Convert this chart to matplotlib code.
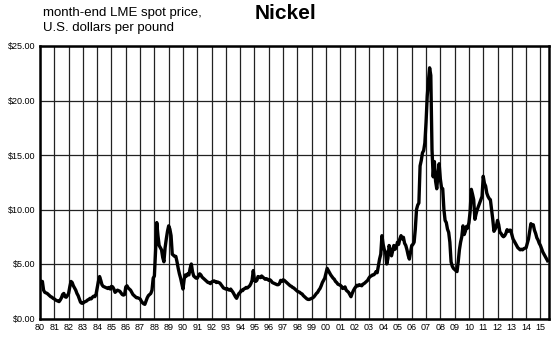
import matplotlib
matplotlib.use("Agg")
import matplotlib.pyplot as plt
import numpy as np

plt.rcParams['font.family'] = ['Liberation Sans', 'DejaVu Sans']

start_year = 1980
# month-end LME nickel spot price, US$ per pound (Jan..Dec per year)
prices_by_year = {
    1980: [3.5, 3.3, 3.4, 2.6, 2.4, 2.35, 2.3, 2.2, 2.1, 2.0, 1.95, 1.85],
    1981: [1.8, 1.7, 1.65, 1.6, 1.55, 1.7, 1.9, 2.2, 2.3, 2.0, 1.95, 2.1],
    1982: [2.3, 2.9, 3.4, 3.3, 3.0, 2.8, 2.6, 2.3, 2.1, 1.8, 1.5, 1.4],
    1983: [1.4, 1.5, 1.55, 1.6, 1.7, 1.75, 1.85, 1.8, 1.95, 2.05, 2.0, 2.2],
    1984: [2.8, 3.4, 3.85, 3.5, 3.1, 2.95, 2.9, 2.85, 2.8, 2.75, 2.85, 2.7],
    1985: [2.95, 2.9, 2.7, 2.4, 2.5, 2.6, 2.55, 2.5, 2.35, 2.2, 2.15, 2.2],
    1986: [2.9, 3.0, 2.8, 2.7, 2.6, 2.4, 2.2, 2.1, 2.0, 1.9, 1.9, 1.85],
    1987: [1.8, 1.6, 1.45, 1.35, 1.3, 1.6, 1.9, 2.1, 2.2, 2.3, 2.6, 3.7],
    1988: [3.9, 6.2, 8.8, 7.6, 6.7, 6.5, 6.3, 5.6, 5.2, 6.5, 7.3, 8.0],
    1989: [8.5, 8.2, 7.6, 5.9, 5.8, 5.7, 5.7, 5.2, 4.6, 4.1, 3.7, 3.2],
    1990: [2.7, 3.6, 4.0, 3.9, 4.1, 4.0, 4.6, 5.0, 4.3, 3.9, 3.8, 3.7],
    1991: [3.7, 3.9, 4.1, 4.0, 3.8, 3.7, 3.6, 3.5, 3.4, 3.3, 3.3, 3.2],
    1992: [3.35, 3.4, 3.45, 3.4, 3.3, 3.35, 3.3, 3.25, 3.1, 2.95, 2.8, 2.75],
    1993: [2.7, 2.75, 2.65, 2.6, 2.7, 2.55, 2.4, 2.2, 2.0, 1.85, 2.1, 2.3],
    1994: [2.4, 2.6, 2.55, 2.7, 2.75, 2.85, 2.8, 2.9, 3.0, 3.2, 3.5, 4.4],
    1995: [3.5, 3.4, 3.5, 3.85, 3.8, 3.75, 3.9, 3.8, 3.7, 3.6, 3.65, 3.6],
    1996: [3.5, 3.55, 3.45, 3.3, 3.25, 3.2, 3.15, 3.1, 3.1, 3.2, 3.5, 3.4],
    1997: [3.55, 3.5, 3.4, 3.3, 3.2, 3.1, 3.0, 2.95, 2.85, 2.8, 2.7, 2.6],
    1998: [2.5, 2.45, 2.4, 2.3, 2.25, 2.1, 2.0, 1.9, 1.8, 1.75, 1.75, 1.8],
    1999: [1.85, 1.9, 2.0, 2.15, 2.3, 2.4, 2.6, 2.75, 3.0, 3.3, 3.5, 3.7],
    2000: [4.15, 4.6, 4.4, 4.2, 4.0, 3.85, 3.7, 3.6, 3.4, 3.3, 3.15, 3.1],
    2001: [3.05, 2.95, 2.75, 2.8, 2.9, 2.6, 2.5, 2.4, 2.2, 2.0, 2.3, 2.55],
    2002: [2.75, 2.9, 3.05, 3.0, 3.1, 3.05, 3.0, 3.15, 3.2, 3.3, 3.4, 3.5],
    2003: [3.7, 3.85, 3.9, 4.0, 4.0, 4.1, 4.3, 4.2, 4.8, 5.45, 5.9, 7.6],
    2004: [6.8, 6.3, 6.1, 5.0, 5.5, 6.7, 6.3, 5.75, 6.2, 6.7, 6.35, 6.5],
    2005: [7.0, 6.8, 7.3, 7.6, 7.3, 7.45, 6.9, 6.7, 6.3, 5.8, 5.45, 6.1],
    2006: [6.7, 6.8, 7.0, 8.2, 10.0, 10.4, 10.6, 14.0, 14.5, 15.2, 15.4, 16.1],
    2007: [18.0, 20.4, 21.8, 23.0, 22.3, 15.5, 13.0, 14.4, 12.6, 11.9, 13.2, 14.2],
    2008: [12.8, 12.0, 11.9, 10.0, 9.0, 8.8, 8.2, 7.9, 7.0, 5.2, 4.8, 4.6],
    2009: [4.5, 4.4, 4.3, 5.2, 6.3, 7.0, 7.5, 8.5, 7.7, 8.0, 8.45, 8.3],
    2010: [8.8, 9.8, 11.85, 11.4, 10.9, 9.1, 9.6, 10.0, 10.3, 10.6, 10.9, 11.2],
    2011: [13.05, 12.4, 12.15, 11.5, 11.2, 11.0, 10.9, 10.0, 9.1, 8.0, 8.2, 8.45],
    2012: [9.0, 8.6, 7.9, 7.8, 7.6, 7.5, 7.6, 7.8, 8.15, 8.0, 8.1, 8.1],
    2013: [7.7, 7.3, 7.1, 6.9, 6.7, 6.5, 6.4, 6.3, 6.35, 6.3, 6.4, 6.45],
    2014: [6.5, 6.9, 7.3, 8.0, 8.7, 8.55, 8.6, 8.1, 7.8, 7.4, 7.2, 6.9],
    2015: [6.7, 6.4, 6.1, 5.9, 5.7, 5.5, 5.3],
}

years = list(range(1980, 2016))
year_labels = [f"{y % 100:02d}" for y in years]
y_ticks = [0, 5, 10, 15, 20, 25]
y_labels = [f"${v:.2f}" for v in y_ticks]

prices = []
for y in sorted(prices_by_year):
    prices.extend(prices_by_year[y])
prices = np.array(prices)
t = start_year + np.arange(len(prices)) / 12.0

fig = plt.figure(figsize=(5.57, 3.37), dpi=100)
ax = fig.add_axes([40/557, 18.5/337, 509/557, 272.5/337])

ax.plot(t, prices, color='black', lw=2.4, solid_joinstyle='round', zorder=3)

ax.set_xlim(1980, 2015.6)
ax.set_ylim(0, 25)
ax.set_xticks(years)
ax.set_xticklabels(year_labels, fontsize=6.5)
ax.set_yticks(y_ticks)
ax.set_yticklabels(y_labels, fontsize=6.5)
ax.tick_params(axis='both', length=0, pad=3)
ax.grid(True, color='#222222', lw=0.9)
ax.set_axisbelow(True)
for s in ax.spines.values():
    s.set_linewidth(1.8)
    s.set_color('black')

fig.text(43/557, 1 - 7/337, "month-end LME spot price,\nU.S. dollars per pound",
         fontsize=9.5, ha='left', va='top', linespacing=1.3)
fig.text(286/557, 1 - 19/337, "Nickel", fontsize=15, fontweight='bold',
         ha='center', va='baseline')

fig.savefig("out.png", dpi=100, facecolor='white')
